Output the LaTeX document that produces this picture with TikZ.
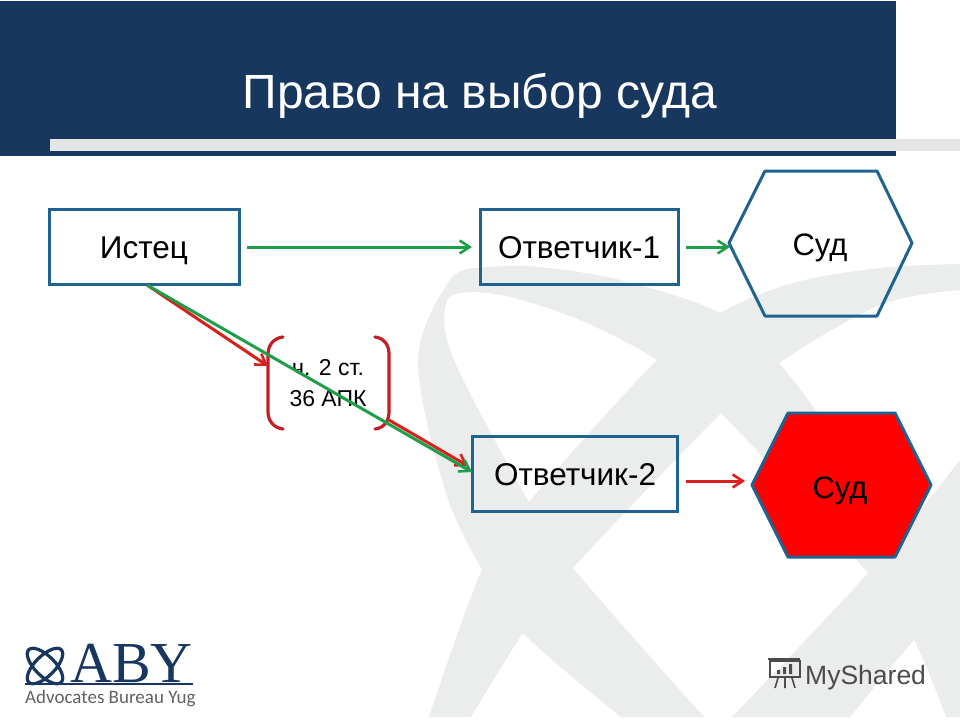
\documentclass[tikz,border=0pt]{standalone}
\usepackage{fontspec}
\setmainfont{Liberation Sans}
\newfontfamily\serifl{Liberation Serif}
\newfontfamily\carl{Carlito}
\usetikzlibrary{arrows.meta}
\definecolor{navy}{HTML}{17375E}
\definecolor{boxblue}{HTML}{1F6391}
\definecolor{wm}{HTML}{EBECEC}
\definecolor{bar}{HTML}{E4E6E6}
\definecolor{grn}{HTML}{1F9E4A}
\definecolor{redl}{HTML}{D9201C}
\definecolor{brk}{HTML}{C22026}
\tikzset{
  entity/.style={draw=boxblue,line width=3pt,inner sep=0pt,text height=22pt,text depth=0pt,font=\fontsize{31.5}{34}\selectfont,text=black},
  hexlabel/.style={font=\fontsize{31}{34}\selectfont,text=black,inner sep=0pt,text height=22pt,text depth=0pt},
  flowg/.style={draw=grn,line width=3pt,-{Straight Barb[length=10pt,width=13pt,line width=2.6pt]}},
  flowr/.style={draw=redl,line width=3pt,-{Straight Barb[length=10pt,width=13pt,line width=2.6pt]}},
  bracket/.style={draw=brk,line width=3.2pt,line cap=round},
  logotext/.style={text=navy,inner sep=0pt,anchor=base west},
  wmcurve/.style={smooth,tension=0.55}
}
\begin{document}
\begin{tikzpicture}[x=1pt,y=-1pt]
\useasboundingbox (0,0) rectangle (960,720);
\fill[white] (0,0) rectangle (960,720);
% watermark
\begin{scope}
\clip (0,0) rectangle (960,717);
\fill[wm] plot[wmcurve] coordinates {(480,268) (450,280) (418,360) (445,490) (482,570) (523,633) (621,717)}
  -- (704,717)
  -- plot[wmcurve] coordinates {(704,717) (573,568) (529,502) (454,360) (446,303) (470,292) (507,296)} -- cycle;
\fill[wm] plot[wmcurve] coordinates {(480,268) (530,266) (620,280) (720,313) (779,363) (868,480) (960,590)}
  -- (960,717) -- (946,717)
  -- plot[wmcurve] coordinates {(946,717) (914,640) (868,573) (721,413) (657,360) (580,320) (507,296) (470,292)} -- cycle;
\fill[wm] plot[wmcurve] coordinates {(429,717) (482,570) (529,502) (657,360) (720,313) (793,283) (880,268) (960,264)}
  -- (960,290)
  -- plot[wmcurve] coordinates {(960,290) (880,305) (779,363) (721,413) (573,568) (523,633) (471,717)} -- cycle;
\fill[wm] plot[wmcurve] coordinates {(732,717) (868,573) (960,460)}
  -- (960,593)
  -- plot[wmcurve] coordinates {(960,593) (914,640) (850,717)} -- cycle;
\end{scope}
% title
\fill[navy] (0,1) rectangle (896,156);
\fill[bar] (50,139) rectangle (960,151);
\node[text=white,inner sep=0pt,font=\fontsize{48}{52}\selectfont] (title) at (480,96) {Право на выбор суда};
% boxes
\node[entity,minimum width=190pt,minimum height=75pt] (ist) at (144,247) {Истец};
\node[entity,minimum width=198pt,minimum height=75pt] (ot1) at (579,247) {Ответчик-1};
\node[entity,minimum width=205pt,minimum height=75pt] (ot2) at (575,474) {Ответчик-2};
% hexagons
\draw[draw=boxblue,line width=3pt,line join=round] (729,243) -- (765,171) -- (877,171) -- (912,243) -- (877,316) -- (765,316) -- cycle;
\draw[draw=boxblue,line width=3pt,fill=red,line join=round] (752,485) -- (788,413) -- (895,413) -- (931,485) -- (895,557) -- (788,557) -- cycle;
\node[hexlabel] (s1) at (820,244) {Суд};
\node[hexlabel] (s2) at (840,487) {Суд};
% bracket note
\node[inner sep=0pt,align=center,font=\fontsize{23}{31}\selectfont,text=black] (note) at (328,383) {ч. 2 ст.\\36 АПК};
\coordinate (bl) at (268,366);
\coordinate (br) at (389,420);
\draw[bracket] (283,337) .. controls (274,338) and (268,345) .. (268,354) -- (268,412) .. controls (268,421) and (274,428) .. (283,429);
\draw[bracket] (375,337) .. controls (384,338) and (389,345) .. (389,354) -- (389,412) .. controls (389,421) and (384,428) .. (375,429);
% connectors
\coordinate (a1) at (247,247);
\coordinate (a2) at (472,247);
\coordinate (b1) at (686,247);
\coordinate (b2) at (730,247);
\coordinate (c1) at (686,481);
\coordinate (c2) at (745,481);
\coordinate (i) at (147,285);
\coordinate (o2a) at (468,466);
\coordinate (o2b) at (472,472);
\draw[flowg] (a1) -- (a2);
\draw[flowg] (b1) -- (b2);
\draw[flowr] (c1) -- (c2);
\draw[flowr] (i) -- (bl);
\draw[flowr] (br) -- (o2a);
\draw[flowg] (i) -- (o2b);
% logo
\begin{scope}[navy,line width=3.2pt]
\draw[rotate around={45:(45,666)}] (45,666) ellipse (23 and 10);
\draw[rotate around={-45:(45,666)}] (45,666) ellipse (23 and 10);
\end{scope}
\node[logotext,font=\serifl\fontsize{58}{58}\selectfont] (aby) at (70,682) {ABY};
\draw[navy,line width=1.6pt] (25,684) -- (193,684);
\node[logotext,text=black!62,font=\carl\fontsize{19}{21}\selectfont] (adv) at (25,703) {Advocates Bureau Yug};
% myshared
\begin{scope}[black!70,line width=1.6pt]
\draw (770,661) rectangle (800,677);
\draw (768,659) -- (800,659);
\draw (778,678) -- (775,688) (785,678) -- (785,688) (792,678) -- (795,688);
\fill (777,670) rectangle (780,674) (783,667) rectangle (786,674) (789,664) rectangle (792,674);
\end{scope}
\node[logotext,text=black!70,font=\fontsize{26.5}{28}\selectfont] (ms) at (805,684) {MyShared};
\end{tikzpicture}
\end{document}
